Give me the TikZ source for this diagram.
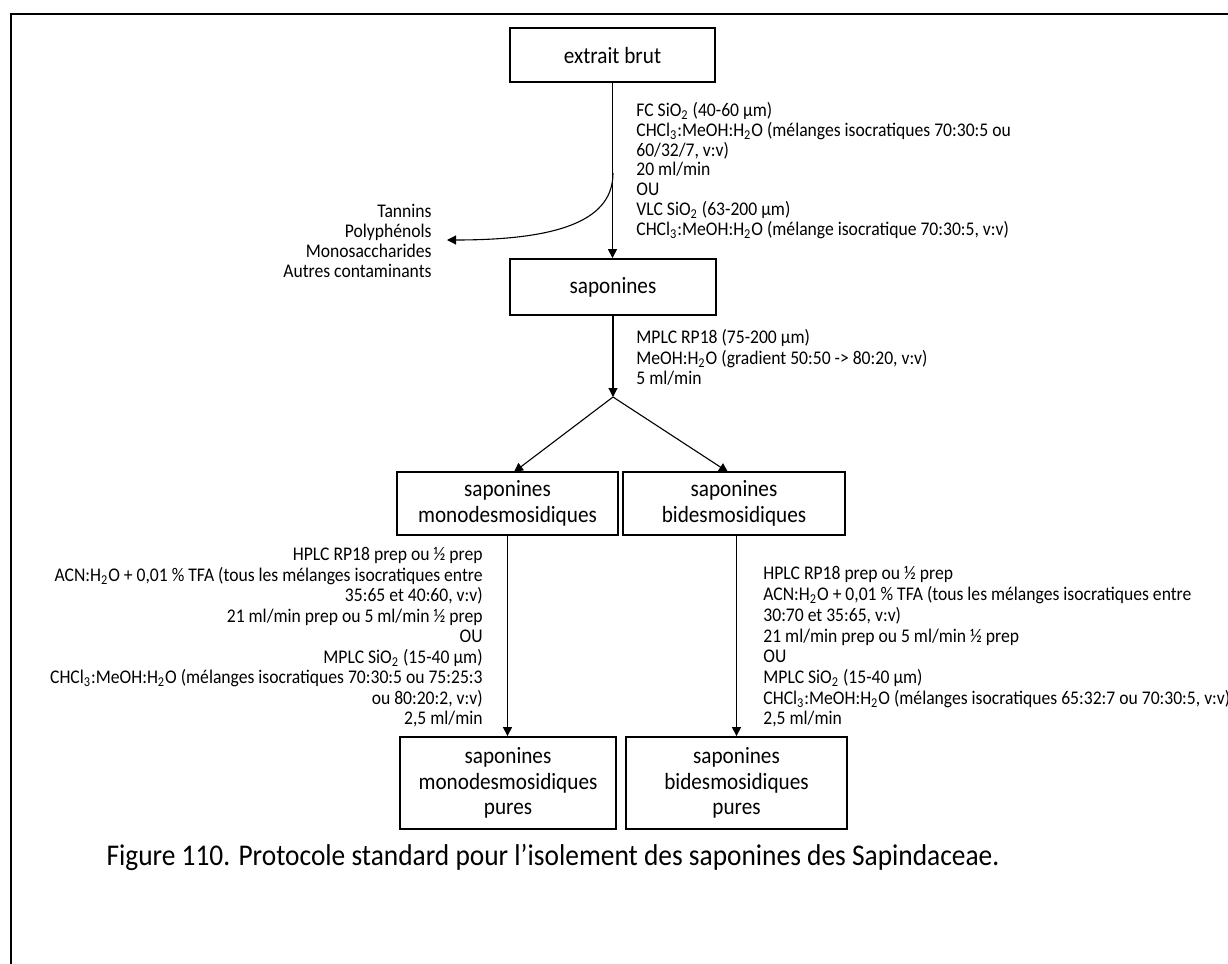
\documentclass[tikz,border=0pt]{standalone}
\usepackage{fontspec}
\setmainfont{Carlito}[FakeStretch=0.91]
\usetikzlibrary{arrows.meta}
\newcommand\subs[1]{\textsubscript{#1}}
\begin{document}
\begin{tikzpicture}[x=0.5pt,y=-0.5pt,
  box/.style={draw,line width=0.9pt,inner sep=0pt,align=center,font=\fontsize{11.65}{12.7}\selectfont},
  ann/.style={inner sep=0pt,font=\fontsize{9.67}{10.35}\selectfont},
  conn/.style={line width=0.55pt,-{Triangle[length=4.5pt,width=4.5pt]}},
  frame/.style={line width=1.1pt}]
\useasboundingbox (0,0) rectangle (1228,964);
\draw[frame] (11,990) -- (11,14) -- (1250,14);

% boxes
\node[box,minimum width=102.5pt,minimum height=27pt] (extrait) at (612.5,55) {extrait brut};
\node[box,minimum width=103pt,minimum height=28pt] (sapo) at (613,287) {saponines};
\node[box,minimum width=110.5pt,minimum height=31.5pt] (mono) at (507.5,503.5) {saponines\\monodesmosidiques};
\node[box,minimum width=111pt,minimum height=31.5pt] (bides) at (734,503.5) {saponines\\bidesmosidiques};
\node[box,minimum width=108pt,minimum height=46pt] (monop) at (508,783) {saponines\\monodesmosidiques\\pures};
\node[box,minimum width=110.5pt,minimum height=46pt] (bidesp) at (736.5,783) {saponines\\bidesmosidiques\\pures};

% annotations
\node[ann,anchor=north west,align=left,font=\fontsize{9.67}{9.85}\selectfont] (ann1) at (636,102.3) {FC SiO\subs{2} (40-60 µm)\\
CHCl\subs{3}:MeOH:H\subs{2}O (mélanges isocratiques 70:30:5 ou\\
60/32/7, v:v)\\
20 ml/min\\
OU\\
VLC SiO\subs{2} (63-200 µm)\\
CHCl\subs{3}:MeOH:H\subs{2}O (mélange isocratique 70:30:5, v:v)};

\node[ann,anchor=north east,align=right,font=\fontsize{9.67}{10.15}\selectfont] (waste) at (432,203.3) {Tannins\\Polyphénols\\Monosaccharides\\Autres contaminants};

\node[ann,anchor=north west,align=left,font=\fontsize{9.67}{10.25}\selectfont] (ann2) at (636,329.3) {MPLC RP18 (75-200 µm)\\
MeOH:H\subs{2}O (gradient 50:50 -> 80:20, v:v)\\
5 ml/min};

\node[ann,anchor=north east,align=right,font=\fontsize{9.67}{10.25}\selectfont] (ann3) at (483,547.3) {HPLC RP18 prep ou ½ prep\\
ACN:H\subs{2}O + 0,01 \% TFA (tous les mélanges isocratiques entre\\
35:65 et 40:60, v:v)\\
21 ml/min prep ou 5 ml/min ½ prep\\
OU\\
MPLC SiO\subs{2} (15-40 µm)\\
CHCl\subs{3}:MeOH:H\subs{2}O (mélanges isocratiques 70:30:5 ou 75:25:3\\
ou 80:20:2, v:v)\\
2,5 ml/min};

\node[ann,anchor=north west,align=left] (ann4) at (763,566.3) {HPLC RP18 prep ou ½ prep\\
ACN:H\subs{2}O + 0,01 \% TFA (tous les mélanges isocratiques entre\\
30:70 et 35:65, v:v)\\
21 ml/min prep ou 5 ml/min ½ prep\\
OU\\
MPLC SiO\subs{2} (15-40 µm)\\
CHCl\subs{3}:MeOH:H\subs{2}O (mélanges isocratiques 65:32:7 ou 70:30:5, v:v)\\
2,5 ml/min};

\node[inner sep=0pt,font=\fontsize{15.05}{16}\selectfont] (caption) at (553,857) {Figure 110. Protocole standard pour l’isolement des saponines des Sapindaceae.};

% connectors
\coordinate (branch) at (613,173);
\coordinate (wastetip) at (447,240);
\coordinate (apex) at (613,397);
\coordinate (montip) at (514,472);
\coordinate (bidtip) at (728,472);

\draw[conn] (extrait.south) -- (extrait.south |- sapo.north);
\draw[conn] (branch) .. controls (613,218) and (565,240) .. (wastetip);
\draw[conn] (sapo.south) -- (apex);
\draw[conn] (apex) -- (montip);
\draw[conn] (apex) -- (bidtip);
\draw[conn] (mono.south) -- (mono.south |- monop.north);
\draw[conn] (bidesp.north |- bides.south) -- (bidesp.north);
\end{tikzpicture}
\end{document}
